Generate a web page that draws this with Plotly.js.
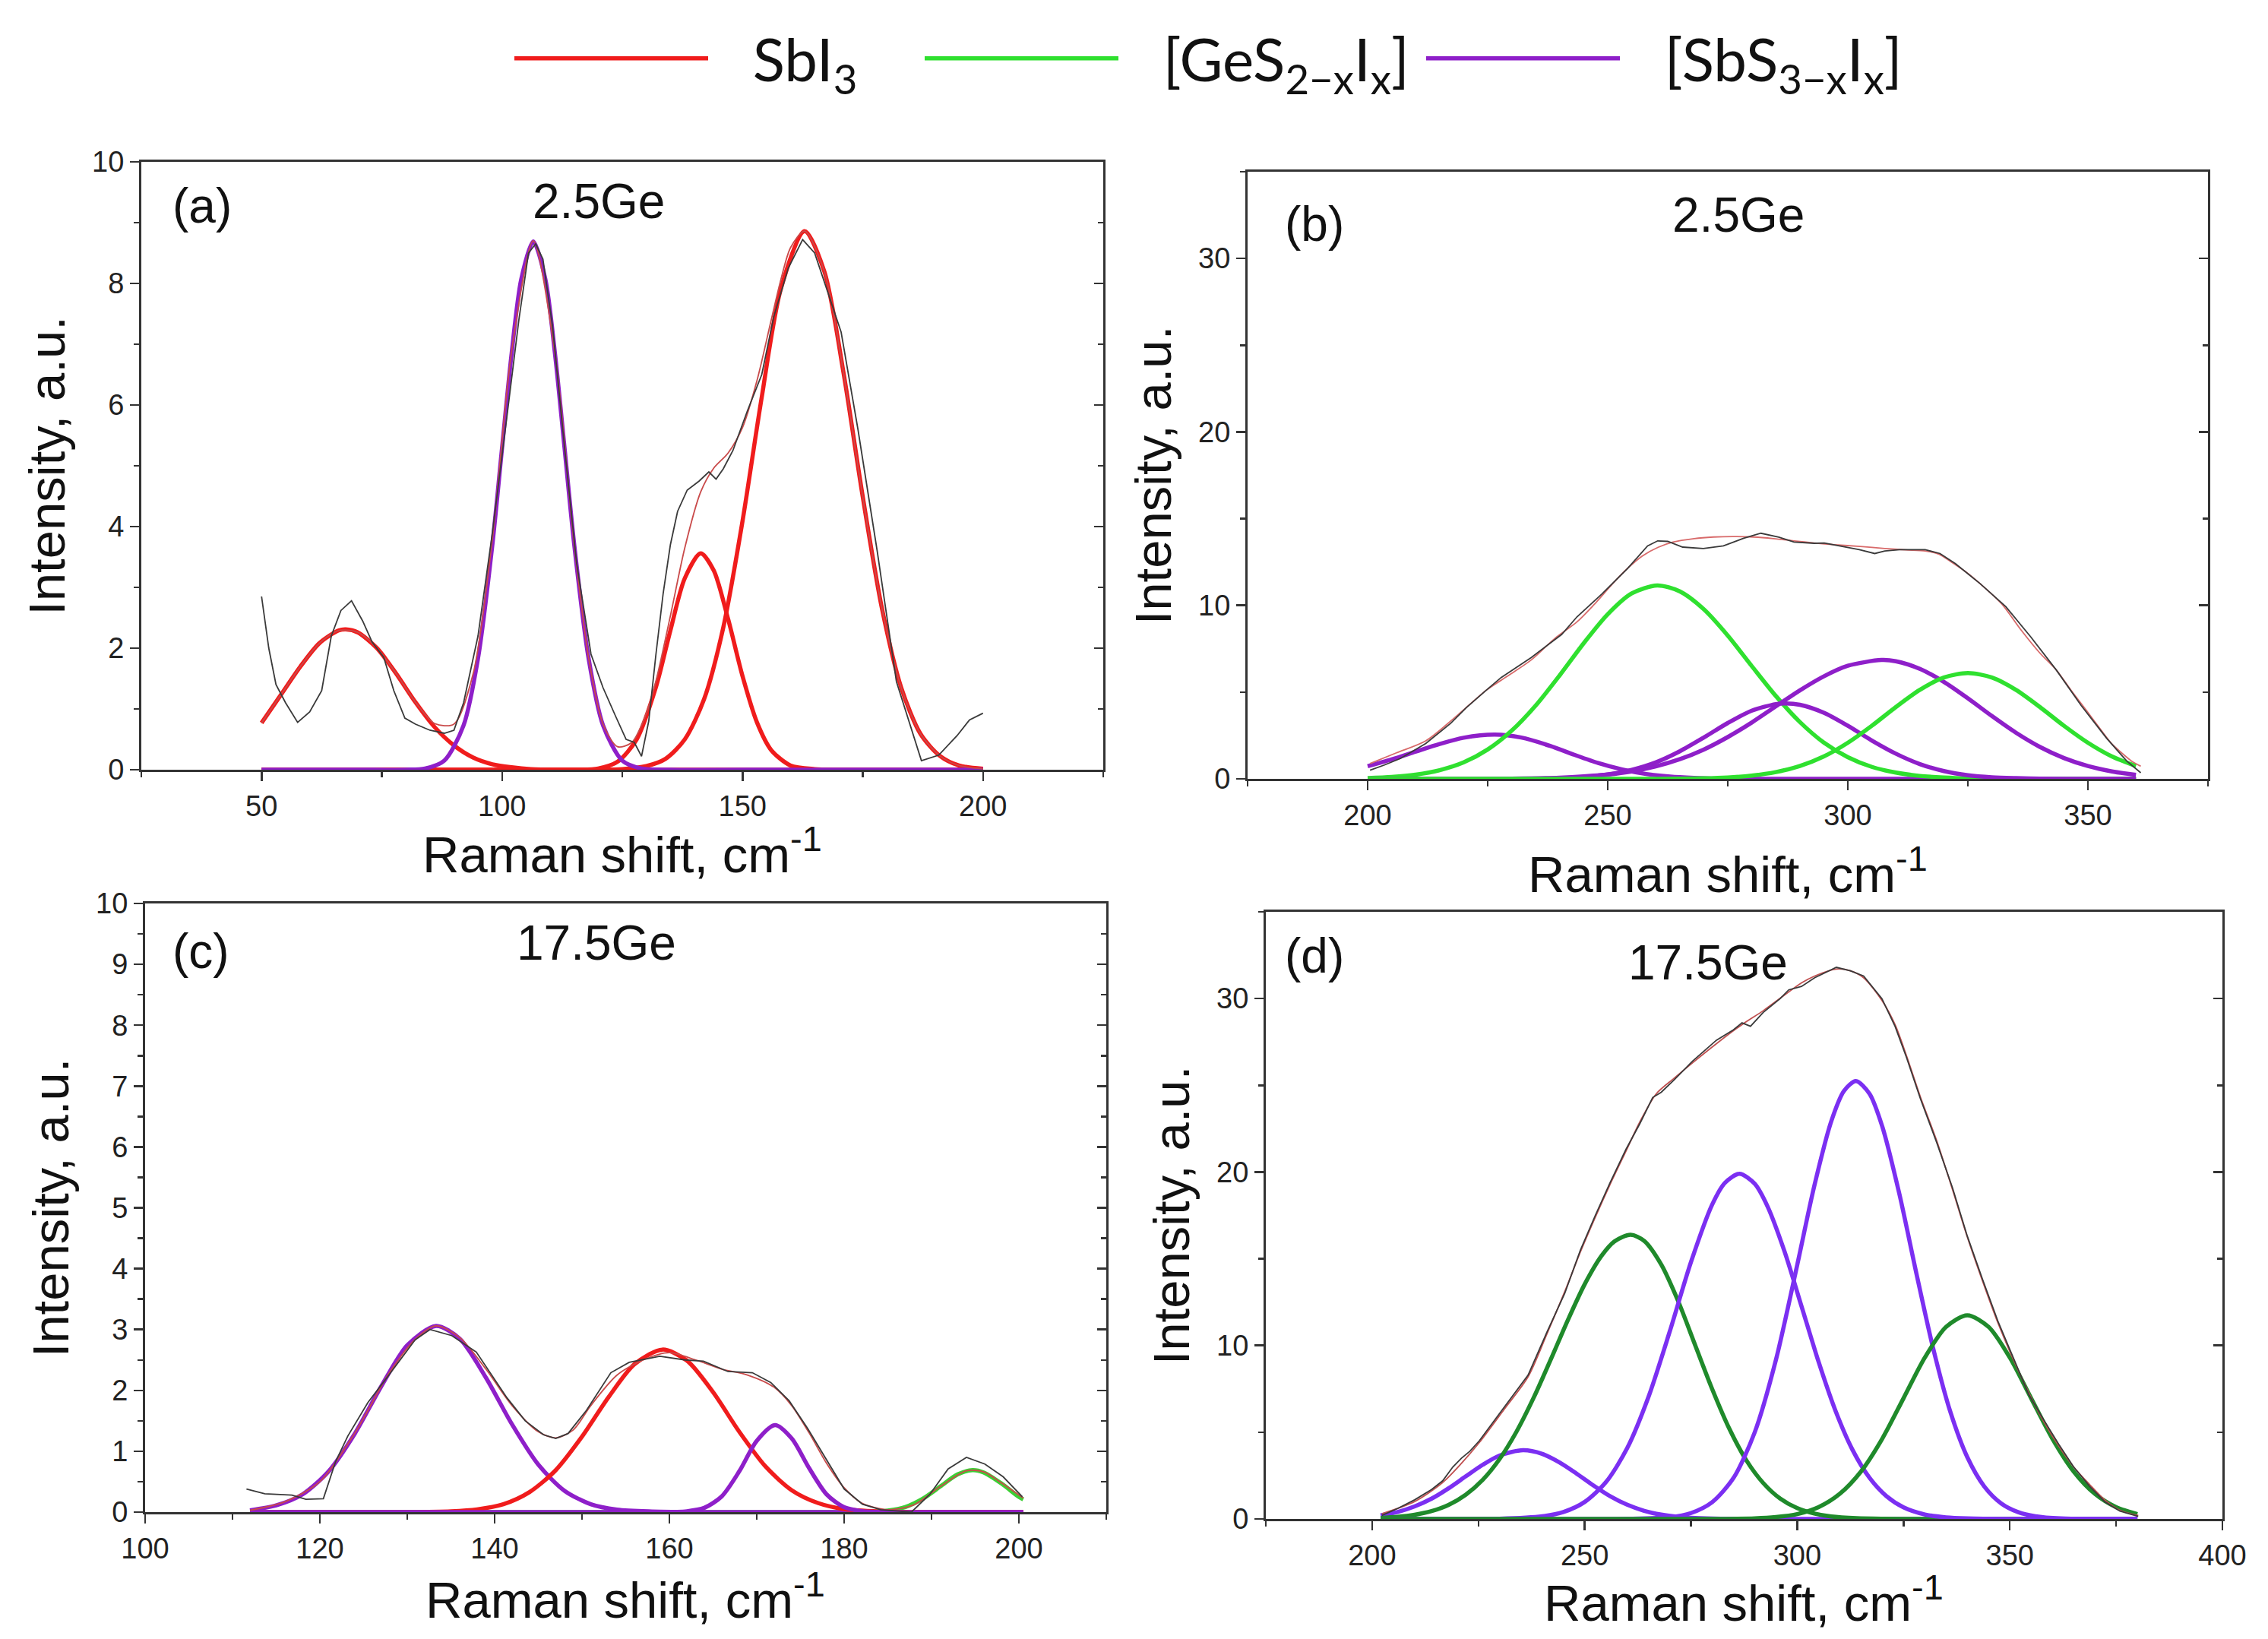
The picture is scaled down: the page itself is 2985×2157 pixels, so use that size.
<!DOCTYPE html>
<html>
<head>
<meta charset="utf-8">
<script src="https://cdn.plot.ly/plotly-3.0.1.min.js"></script>
<style>html,body{margin:0;padding:0;background:#fff;}</style>
</head>
<body>
<div id="chart" style="width:2985px;height:2157px;"></div>
<script>
// ---------- Panel (a): 2.5Ge, low-frequency region ----------
var a_red1_x = [50,54,58,62,66,67.5,70,74,78,82,86,90,94,98,102,106,112,130,150,200];
var a_red1_y = [0.77,1.23,1.69,2.08,2.29,2.31,2.26,2.00,1.58,1.11,0.70,0.40,0.20,0.09,0.04,0.01,0,0,0,0];
var a_pur_x = [50,70,80,84,88,92,95,98,100,102,104,106.5,109,111,113,115,118,121,125,129,135,160,200];
var a_pur_y = [0,0,0,0.02,0.15,0.73,1.83,3.71,5.29,6.85,8.07,8.69,8.07,6.85,5.29,3.71,1.83,0.73,0.15,0.02,0,0,0];
var a_red2_x = [50,90,110,116,120,124,128,132,135,138,141.3,144,147,150,153,156,160,165,170,185,200];
var a_red2_y = [0,0,0,0,0.02,0.13,0.50,1.36,2.29,3.15,3.56,3.28,2.48,1.54,0.78,0.32,0.07,0.01,0,0,0];
var a_red3_x = [50,90,110,120,125,130,134,138,142,146,150,154,158,162.9,167,171,175,179,183,187,191,195,200];
var a_red3_y = [0,0,0,0,0.01,0.06,0.18,0.50,1.16,2.34,4.09,6.13,7.92,8.86,8.20,6.53,4.49,2.65,1.35,0.59,0.23,0.07,0.015];
var a_fit_x = [50,54,58,62,66,70,74,78,82,86,90,94,98,102,106.5,111,115,118,121,124,127,130,132,135,138,141.3,144,147,150,153,156,158,160,162.9,167,171,175,179,183,187,191,195,200];
var a_fit_y = [0.77,1.23,1.69,2.08,2.29,2.26,2.00,1.58,1.11,0.76,0.75,1.58,3.80,6.89,8.70,6.85,3.71,1.84,0.75,0.38,0.45,0.93,1.46,2.53,3.65,4.57,4.96,5.21,5.63,6.40,7.41,8.07,8.59,8.86,8.20,6.53,4.49,2.65,1.35,0.59,0.23,0.07,0.015];
var a_exp_x = [50,51.5,53,55,57.5,60,62.5,64.5,66.5,68.7,71,73,75.4,77.5,79.8,82,85,88,90,92,95,98,101,103.5,105.5,107,108.5,110.5,113,115.5,118.5,121,123.5,125.8,127.5,129,130.5,132,133.5,135,136.5,138.5,141,143,144.5,146,148,151,154,156.5,159.5,162.5,165,168,170.5,174,178,182,184.5,187.2,190.8,194.6,197.2,200];
var a_exp_y = [2.85,2.0,1.4,1.1,0.78,0.95,1.3,2.2,2.62,2.78,2.45,2.1,1.85,1.3,0.85,0.75,0.65,0.6,0.65,1.1,2.2,3.9,5.8,7.4,8.5,8.65,8.4,7.3,5.3,3.4,1.9,1.35,0.9,0.5,0.45,0.22,0.8,1.9,2.9,3.7,4.25,4.6,4.75,4.9,4.78,4.95,5.25,5.9,6.5,7.45,8.25,8.72,8.5,7.8,7.2,5.6,3.6,1.45,0.82,0.15,0.24,0.56,0.82,0.93];

// ---------- Panel (b): 2.5Ge, high-frequency region ----------
var b_pur1_x = [200,205,210,215,220,226.5,232,238,243,248,253,258,263,268,275,285,320,360];
var b_pur1_y = [0.73,1.12,1.57,2.01,2.37,2.55,2.38,1.90,1.39,0.91,0.54,0.28,0.13,0.06,0.01,0,0,0];
var b_grn1_x = [200,205,210,215,220,225,230,235,240,245,250,255,260.3,265,270,275,280,285,290,295,300,305,310,315,320,325,330,340,360];
var b_grn1_y = [0.045,0.11,0.24,0.50,0.95,1.69,2.78,4.23,5.97,7.82,9.49,10.69,11.15,10.81,9.78,8.26,6.50,4.78,3.28,2.09,1.25,0.69,0.36,0.17,0.08,0.03,0.01,0,0];
var b_pur2_x = [200,220,230,240,245,250,255,260,265,270,275,280,285,287,290,295,300,305,310,315,320,325,330,335,340,350,360];
var b_pur2_y = [0,0,0.005,0.04,0.11,0.25,0.52,0.95,1.59,2.38,3.22,3.93,4.31,4.35,4.27,3.81,3.06,2.21,1.45,0.85,0.45,0.21,0.09,0.04,0.01,0,0];
var b_pur3_x = [200,220,230,240,245,250,255,260,265,270,275,280,285,290,295,300,307,310,315,320,325,330,335,340,345,350,355,360];
var b_pur3_y = [0,0,0.016,0.07,0.14,0.25,0.43,0.72,1.13,1.69,2.41,3.25,4.18,5.10,5.91,6.52,6.85,6.78,6.34,5.59,4.64,3.62,2.66,1.84,1.20,0.74,0.43,0.23];
var b_grn2_x = [200,240,260,265,270,275,280,285,290,295,300,305,310,315,320,325,330,335,340,345,350,355,360];
var b_grn2_y = [0,0,0.004,0.012,0.03,0.08,0.19,0.39,0.74,1.29,2.08,3.06,4.14,5.13,5.84,6.10,5.84,5.13,4.14,3.06,2.08,1.29,0.74];
var b_fit_x = [200.5,206,212.1,218,224.7,229,234.1,239,243.6,247,251,254,257.2,260.5,263.6,268,272,276,280.4,284.5,288.8,293,297.2,302.5,307.7,312,316.1,319,321.3,324.5,327.6,332,336,340,343.4,346.5,349.7,352.5,354.9,357,359.1,361];
var b_fit_y = [0.88,1.5,2.19,3.5,5.11,5.9,6.86,8.1,9.05,10.0,11.24,12.1,12.85,13.35,13.65,13.85,13.94,13.97,13.94,13.85,13.72,13.6,13.5,13.4,13.28,13.2,13.14,12.95,12.55,11.95,11.24,10.1,8.61,7.25,6.28,5.1,3.94,2.9,2.04,1.5,1.02,0.73];
var b_exp_x = [200.5,203.5,206.8,212.1,217.3,220.5,224.7,227.8,234.1,240.4,243.6,248.8,254.1,258.3,260.4,262.5,265.6,269.9,274.1,278.3,281.9,285.6,288.8,293,295.1,299.3,302.4,305.6,307.7,310.8,316.1,319.2,322.4,327.6,332.9,338.1,343.4,348.6,353.9,358.1,361];
var b_exp_y = [0.5,0.8,1.17,2.04,3.2,4.09,5.11,5.84,7.0,8.32,9.34,10.66,12.12,13.43,13.72,13.69,13.36,13.28,13.43,13.87,14.16,13.94,13.65,13.58,13.6,13.36,13.21,12.99,13.14,13.21,13.21,12.99,12.41,11.24,9.93,8.18,6.28,4.23,2.34,1.02,0.35];

// ---------- Panel (c): 17.5Ge, low-frequency region ----------
var c_pur1_x = [112,115,118,121,124,127,130,133.3,136,139,142,145,148,151,154,158,165,180,200.5];
var c_pur1_y = [0.03,0.11,0.29,0.67,1.29,2.06,2.74,3.06,2.85,2.21,1.44,0.78,0.35,0.13,0.04,0.01,0,0,0];
var c_red_x = [112,125,130,135,138,141,144,147,150,153,156,159.2,162,165,168,171,174,177,180,184,190,200.5];
var c_red_y = [0,0,0,0.013,0.045,0.13,0.33,0.69,1.24,1.88,2.43,2.67,2.49,1.97,1.32,0.75,0.36,0.15,0.05,0.01,0,0];
var c_pur2_x = [112,140,158,162,164,166,168,170,172.1,174,176,178,180,182,185,192,200.5];
var c_pur2_y = [0,0,0,0.014,0.07,0.26,0.67,1.17,1.43,1.21,0.72,0.29,0.08,0.017,0,0,0];
var c_grn_x = [112,150,176,180,183,185,187,189,191,193,194.7,196,198,200,200.5];
var c_grn_y = [0,0,0,0,0.005,0.024,0.083,0.22,0.42,0.62,0.69,0.65,0.47,0.25,0.21];
var c_fit_x = [112,116,120,124,128,131,133.3,136,139,142,145,147,149,151,154,157,160,163,166,169,172,174,176,178,180,182,185,188,191,194,196,198,200.5];
var c_fit_y = [0.03,0.17,0.5,1.3,2.3,2.85,3.06,2.87,2.35,1.75,1.32,1.22,1.35,1.75,2.25,2.5,2.62,2.5,2.35,2.25,2.05,1.75,1.3,0.8,0.4,0.15,0.04,0.12,0.42,0.68,0.66,0.48,0.23];
var c_exp_x = [111.6,113.7,116.8,118.4,120.4,121.8,123.2,125.5,128.1,130.9,132.6,135.1,137.9,139.3,141.4,143.5,145.6,147,148.4,150.5,153.3,155.4,158.9,161.8,163.9,166.7,169.5,171.6,173.7,175.8,177.9,180,182.1,184.2,187.7,189.8,191.9,194,196.1,198.2,200.4];
var c_exp_y = [0.38,0.30,0.28,0.21,0.22,0.83,1.25,1.8,2.29,2.83,3.0,2.9,2.63,2.33,1.88,1.5,1.27,1.21,1.29,1.67,2.29,2.46,2.56,2.5,2.48,2.31,2.29,2.13,1.83,1.38,0.88,0.38,0.13,0.04,0.0,0.29,0.71,0.9,0.79,0.58,0.25];

// ---------- Panel (d): 17.5Ge, high-frequency region ----------
var d_pur1_x = [202,206,210,214,218,222,226,230,235.5,240,244,248,252,256,260,264,268,272,276,282,300,340,380];
var d_pur1_y = [0.21,0.40,0.72,1.17,1.77,2.45,3.12,3.66,3.96,3.75,3.27,2.63,1.94,1.31,0.82,0.47,0.25,0.12,0.05,0.01,0,0,0];
var d_grn1_x = [202,206,210,214,218,222,226,230,234,238,242,246,250,254,257,260.8,264,268,272,276,280,284,288,292,296,300,304,308,314,320,330,350,380];
var d_grn1_y = [0.06,0.12,0.24,0.45,0.81,1.39,2.25,3.46,5.05,6.99,9.18,11.44,13.53,15.18,16.0,16.38,16.03,14.67,12.55,10.01,7.48,5.21,3.39,2.07,1.17,0.62,0.31,0.14,0.04,0.01,0,0,0];
var d_pur2_x = [202,220,230,240,245,250,255,260,265,270,275,280,283,286.4,290,293,297,301,305,309,313,317,321,325,330,335,340,350,380];
var d_pur2_y = [0,0,0.01,0.15,0.40,0.98,2.12,4.08,7.03,10.80,14.81,18.13,19.38,19.9,19.32,18.02,15.42,12.26,9.07,6.23,3.98,2.37,1.31,0.67,0.26,0.09,0.03,0,0];
var d_pur3_x = [202,240,260,270,275,280,285,290,295,300,304,308,311,313.8,317,320,324,328,332,336,340,344,348,352,356,362,370,380];
var d_pur3_y = [0,0,0.01,0.10,0.34,0.97,2.36,5.0,9.19,14.65,19.19,22.93,24.68,25.24,24.51,22.62,18.75,14.18,9.80,6.18,3.56,1.87,0.89,0.39,0.16,0.03,0,0];
var d_grn2_x = [202,250,280,290,295,300,305,310,315,320,325,330,335,340,345,350,355,360,365,370,375,380];
var d_grn2_y = [0,0,0,0.035,0.11,0.28,0.68,1.45,2.74,4.63,6.96,9.30,11.07,11.74,11.07,9.30,6.96,4.63,2.74,1.45,0.68,0.28];
var d_fit_x = [202.3,210,216.6,221,225.2,231,236.7,241,245.3,249,252.5,256,259.7,263,266.8,271,275.4,281,287,292,297,301,304.1,309.2,312.5,315.6,319.9,323,325.7,329,332.8,336.5,340,343.6,347.2,350.8,354.4,358,361.5,365,368.7,372.3,375.9,380.2];
var d_fit_y = [0.3,1.0,2.1,3.2,4.4,6.3,8.2,10.6,13.1,15.4,17.4,19.3,21.2,22.9,24.5,25.4,26.3,27.4,28.5,29.3,30.2,30.9,31.3,31.7,31.6,31.2,29.9,28.5,26.7,24.3,21.8,19.0,16.25,13.7,11.3,9.2,7.3,5.6,4.2,3.0,2.0,1.1,0.5,0.2];
var d_exp_x = [202.3,206,210,214,216.6,219,221,223,225.2,231,236.7,241,245.3,249,252.5,256,259.7,263,266,268,271,275.4,281,285,287,289,292,296,298,301,304.1,309.2,312.5,315.6,319.9,323,325.7,329,332.8,336.5,340,343.6,347.2,350.8,354.4,358,361.5,365,368.7,372.3,375.9,380.2];
var d_exp_y = [0.2,0.6,1.1,1.7,2.2,3.0,3.5,3.9,4.5,6.4,8.3,10.7,13.0,15.5,17.5,19.4,21.3,22.8,24.3,24.6,25.3,26.4,27.6,28.2,28.6,28.4,29.2,30.0,30.5,30.7,31.2,31.8,31.6,31.3,30.0,28.4,26.6,24.2,21.7,19.1,16.3,13.8,11.4,9.3,7.2,5.7,4.3,3.0,1.9,1.0,0.45,0.15];

// ---------- Text ----------
var legendNames = ['SbI<sub>3</sub>', '[GeS<sub>2\u2212x</sub>I<sub>x</sub>]', '[SbS<sub>3\u2212x</sub>I<sub>x</sub>]'];
var panelLetters = ['(a)', '(b)', '(c)', '(d)'];
var panelSamples = ['2.5Ge', '2.5Ge', '17.5Ge', '17.5Ge'];
var xTitle = 'Raman shift, cm<sup>-1</sup>';
var yTitle = 'Intensity, a.u.';

// ---------- Styles ----------
var RED = '#f01c1c', PURPLE = '#8e1fc9', PURPLE_D = '#7b2ff2';
var GREEN = '#2fe02f', GREEN_C = '#3ccf35', GREEN_D = '#1f8a2b';
var EXP = '#3a3a3a', FIT = '#c94a4a';
var CW = 5.5, TW = 1.8;
var AX = '#333333';
var TICKFONT = {family: 'Liberation Sans, Arial, sans-serif', size: 38, color: '#222'};
var TITLEFONT = {family: 'Liberation Sans, Arial, sans-serif', size: 67, color: '#111'};
var LEGGAP = '\u2002\u2009\u200A';

function comp(x, y, color, xa, ya, extra) {
  var t = {x: x, y: y, type: 'scatter', mode: 'lines', xaxis: xa, yaxis: ya,
    line: {color: color, width: CW, shape: 'spline', smoothing: 0.8}, showlegend: false, hoverinfo: 'skip'};
  if (extra) for (var k in extra) t[k] = extra[k];
  return t;
}
function thin(x, y, color, xa, ya, shape) {
  return {x: x, y: y, type: 'scatter', mode: 'lines', xaxis: xa, yaxis: ya,
    line: {color: color, width: TW, shape: shape, smoothing: 0.8}, showlegend: false, hoverinfo: 'skip'};
}

var data = [
  // (a)
  comp(a_red1_x, a_red1_y, RED, 'x', 'y', {showlegend: true, name: LEGGAP + legendNames[0], legend: 'legend'}),
  comp(a_red2_x, a_red2_y, RED, 'x', 'y'),
  comp(a_red3_x, a_red3_y, RED, 'x', 'y'),
  comp(a_pur_x, a_pur_y, PURPLE, 'x', 'y'),
  thin(a_fit_x, a_fit_y, FIT, 'x', 'y', 'spline'),
  thin(a_exp_x, a_exp_y, EXP, 'x', 'y5', 'linear'),
  // (b)
  comp(b_pur1_x, b_pur1_y, PURPLE, 'x2', 'y2'),
  comp(b_grn1_x, b_grn1_y, GREEN, 'x2', 'y2', {showlegend: true, name: LEGGAP + legendNames[1], legend: 'legend2'}),
  comp(b_pur2_x, b_pur2_y, PURPLE, 'x2', 'y2'),
  comp(b_pur3_x, b_pur3_y, PURPLE, 'x2', 'y2', {showlegend: true, name: LEGGAP + legendNames[2], legend: 'legend3'}),
  comp(b_grn2_x, b_grn2_y, GREEN, 'x2', 'y2'),
  thin(b_fit_x, b_fit_y, '#d86a6a', 'x2', 'y2', 'spline'),
  thin(b_exp_x, b_exp_y, EXP, 'x2', 'y6', 'linear'),
  // (c)
  comp(c_grn_x, c_grn_y, GREEN_C, 'x3', 'y3'),
  comp(c_pur1_x, c_pur1_y, PURPLE, 'x3', 'y3'),
  comp(c_red_x, c_red_y, RED, 'x3', 'y3'),
  comp(c_pur2_x, c_pur2_y, PURPLE, 'x3', 'y3'),
  thin(c_fit_x, c_fit_y, FIT, 'x3', 'y3', 'spline'),
  thin(c_exp_x, c_exp_y, EXP, 'x3', 'y7', 'linear'),
  // (d)
  comp(d_pur1_x, d_pur1_y, PURPLE_D, 'x4', 'y4'),
  comp(d_grn1_x, d_grn1_y, GREEN_D, 'x4', 'y4'),
  comp(d_pur2_x, d_pur2_y, PURPLE_D, 'x4', 'y4'),
  comp(d_pur3_x, d_pur3_y, PURPLE_D, 'x4', 'y4'),
  comp(d_grn2_x, d_grn2_y, GREEN_D, 'x4', 'y4'),
  thin(d_fit_x, d_fit_y, '#c05050', 'x4', 'y4', 'spline'),
  thin(d_exp_x, d_exp_y, EXP, 'x4', 'y8', 'linear')
];

function xax(domain, anchor, range, dtick, minor) {
  return {domain: domain, anchor: anchor, range: range, dtick: dtick, tick0: 0,
    showgrid: false, zeroline: false, showline: true, mirror: true, linecolor: AX, linewidth: 3,
    ticks: 'outside', ticklen: 12, tickwidth: 2.5, tickcolor: AX, tickfont: TICKFONT,
    minor: {dtick: minor, ticks: 'outside', ticklen: 7, tickwidth: 2.5, tickcolor: AX, showgrid: false},
    automargin: false, fixedrange: true};
}
function yax(domain, anchor, range, dtick, minor) {
  return {domain: domain, anchor: anchor, range: range, dtick: dtick, tick0: 0,
    showgrid: false, zeroline: false, showline: true, linecolor: AX, linewidth: 3,
    ticks: 'outside', ticklen: 12, tickwidth: 2.5, tickcolor: AX, tickfont: TICKFONT,
    minor: {dtick: minor, ticks: 'outside', ticklen: 7, tickwidth: 2.5, tickcolor: AX, showgrid: false},
    title: {text: yTitle, font: TITLEFONT, standoff: 14}, automargin: false, fixedrange: true};
}
function yright(over, anchor, range, dtick, minor) {
  return {overlaying: over, anchor: anchor, side: 'right', range: range, dtick: dtick, tick0: 0,
    showgrid: false, zeroline: false, showline: true, linecolor: AX, linewidth: 3,
    ticks: 'inside', ticklen: 12, tickwidth: 2.5, tickcolor: AX, showticklabels: false,
    minor: {dtick: minor, ticks: 'inside', ticklen: 7, tickwidth: 2.5, tickcolor: AX, showgrid: false},
    automargin: false, fixedrange: true};
}

var W = 2985, H = 2157;
function px(v) { return v / W; }
function py(v) { return 1 - v / H; }

var legendBase = {orientation: 'h', yanchor: 'middle', xanchor: 'left', bgcolor: 'rgba(0,0,0,0)', borderwidth: 0,
  font: {family: 'Lato, Open Sans, sans-serif', size: 78, color: '#111'}, itemwidth: 255, traceorder: 'normal'};
function leg(x) { var o = {}; for (var k in legendBase) o[k] = legendBase[k]; o.x = x; o.y = py(77); return o; }

var annFont = {family: 'Liberation Sans, Arial, sans-serif', size: 64, color: '#111'};
function ann(text, x, y, xanchor, font) {
  return {text: text, xref: 'paper', yref: 'paper', x: x, y: y, xanchor: xanchor, yanchor: 'middle',
    showarrow: false, borderpad: 0, font: font || annFont};
}

var layout = {
  width: W, height: H, margin: {l: 0, r: 0, t: 0, b: 0}, paper_bgcolor: '#ffffff', plot_bgcolor: '#ffffff',
  xaxis: xax([px(186), px(1452)], 'y', [25, 225], 50, 25),
  yaxis: yax([py(1013), py(213)], 'x', [0, 10], 2, 1),
  xaxis2: xax([px(1642), px(2906)], 'y2', [175, 375], 50, 25),
  yaxis2: yax([py(1025), py(226)], 'x2', [0, 35], 10, 5),
  xaxis3: xax([px(191), px(1456)], 'y3', [100, 210], 20, 10),
  yaxis3: yax([py(1990), py(1189)], 'x3', [0, 10], 1, 0.5),
  xaxis4: xax([px(1666), px(2925)], 'y4', [175, 400], 50, 25),
  yaxis4: yax([py(1999), py(1200)], 'x4', [0, 35], 10, 5),
  yaxis5: yright('y', 'x', [0, 10], 2, 1),
  yaxis6: yright('y2', 'x2', [0, 35], 10, 5),
  yaxis7: yright('y3', 'x3', [0, 10], 1, 0.5),
  yaxis8: yright('y4', 'x4', [0, 35], 10, 5),
  legend: leg(px(672)),
  legend2: leg(px(1212)),
  legend3: leg(px(1872)),
  annotations: [
    ann(panelLetters[0], px(226), py(271), 'left'),
    ann(panelSamples[0], px(788), py(265), 'center'),
    ann(panelLetters[1], px(1690), py(295), 'left'),
    ann(panelSamples[1], px(2288), py(283), 'center'),
    ann(panelLetters[2], px(226), py(1252), 'left'),
    ann(panelSamples[2], px(785), py(1241), 'center'),
    ann(panelLetters[3], px(1690), py(1258), 'left'),
    ann(panelSamples[3], px(2248), py(1267), 'center'),
    ann(xTitle, px(819), py(1120), 'center', TITLEFONT),
    ann(xTitle, px(2274), py(1146), 'center', TITLEFONT),
    ann(xTitle, px(823), py(2101), 'center', TITLEFONT),
    ann(xTitle, px(2295), py(2105), 'center', TITLEFONT)
  ],
  showlegend: true
};

Plotly.newPlot('chart', data, layout, {staticPlot: true, displayModeBar: false});
</script>
</body>
</html>
